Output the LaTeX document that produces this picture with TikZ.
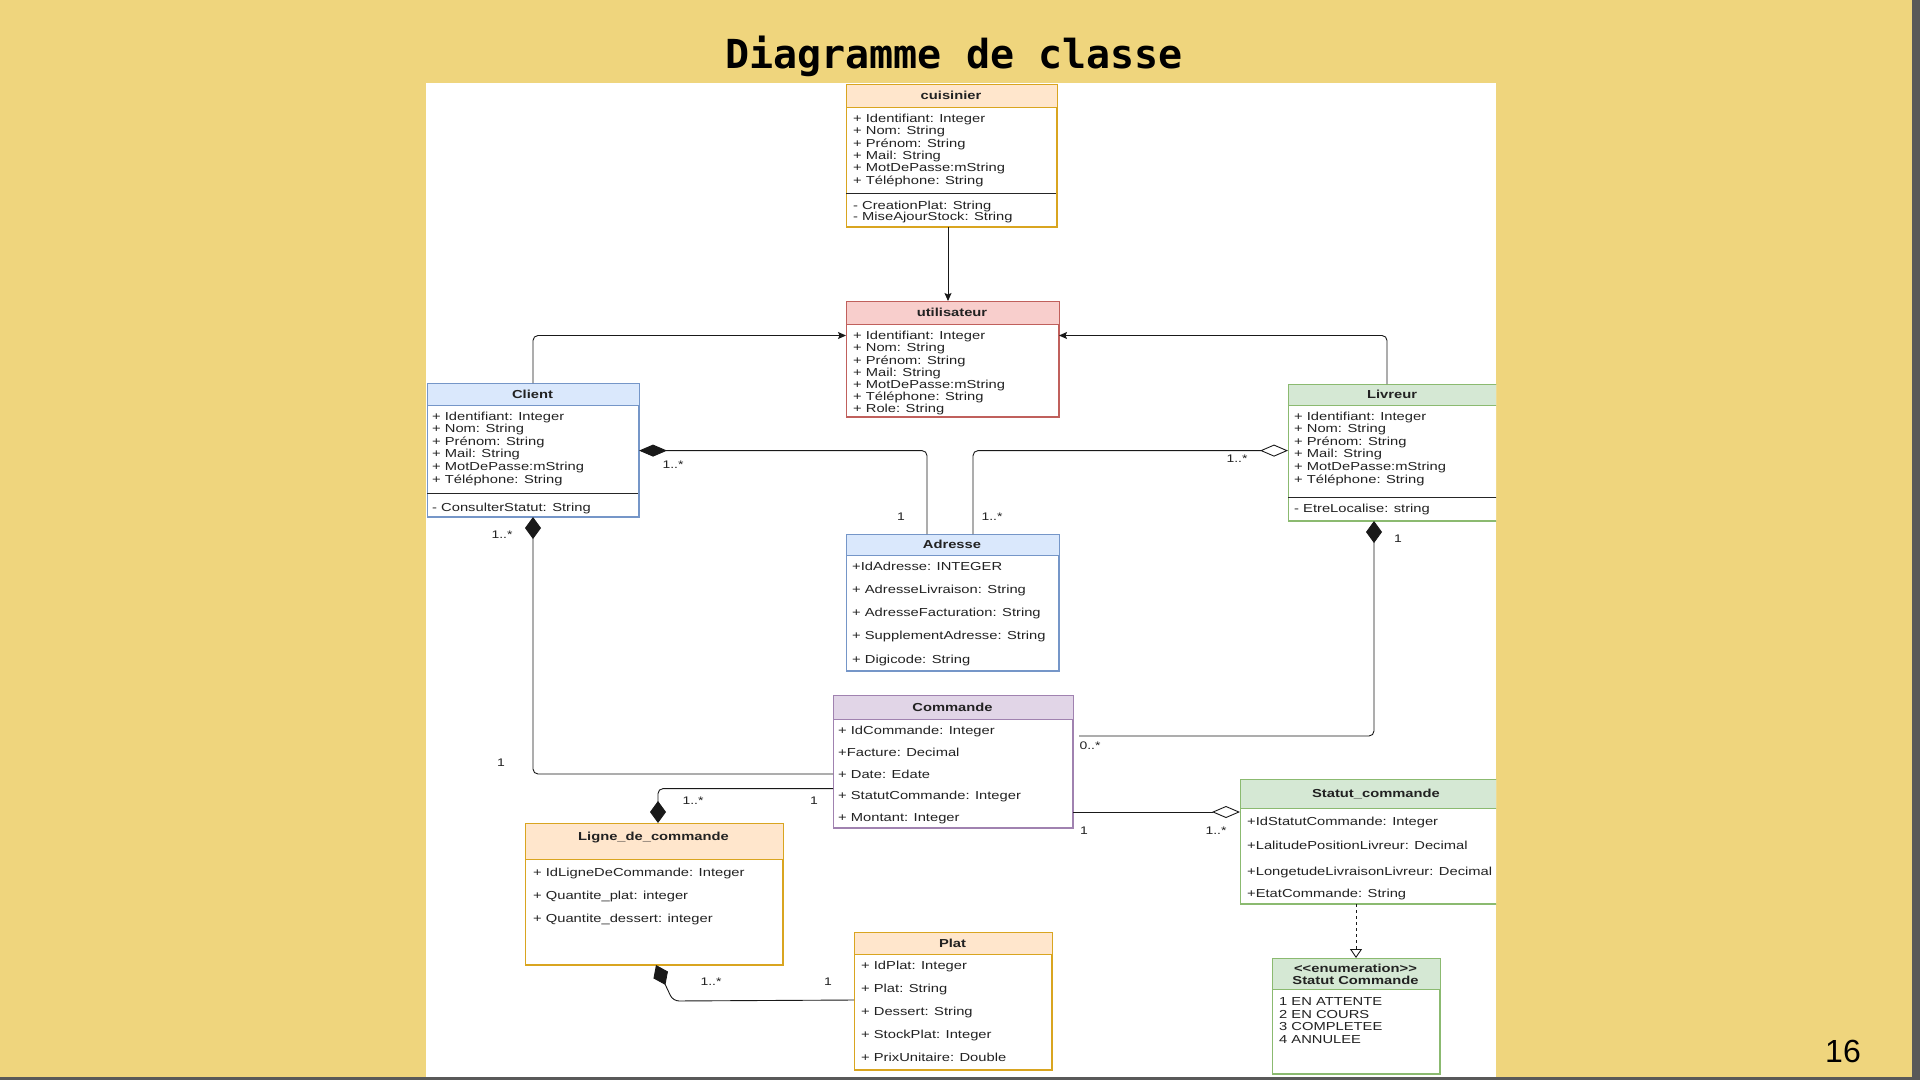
\documentclass[tikz,border=0pt]{standalone}
\usepackage{fontspec}
\usetikzlibrary{arrows.meta}
\newfontfamily\umlf[FakeStretch=1.27]{Liberation Sans}
\newfontfamily\titlef{DejaVu Sans Mono}
\newfontfamily\pagef{Liberation Sans}
\definecolor{slide}{HTML}{EFD57D}
\definecolor{txt}{HTML}{222222}
\definecolor{orgF}{HTML}{FFE6CC}\definecolor{orgD}{HTML}{D9A520}
\definecolor{redF}{HTML}{F8CECC}\definecolor{redD}{HTML}{C0605C}
\definecolor{bluF}{HTML}{DAE8FC}\definecolor{bluD}{HTML}{7596C8}
\definecolor{grnF}{HTML}{D5E8D4}\definecolor{grnD}{HTML}{8BBA70}
\definecolor{purF}{HTML}{E1D5E7}\definecolor{purD}{HTML}{A082B0}
\tikzset{
  attr/.style={font=\umlf\fontsize{11.6}{12}\selectfont, text=txt, inner sep=0pt, anchor=base west},
  ctitle/.style={font=\umlf\bfseries\fontsize{11.6}{12}\selectfont, text=txt, inner sep=0pt, anchor=base},
  mult/.style={font=\umlf\fontsize{11}{12}\selectfont, text=txt, inner sep=0pt},
  conn/.style={line width=0.9pt, draw=black!90},
  assoc/.style={conn, -{Stealth[length=8pt,width=7pt,inset=1.5pt]}},
  hcomp/.style={conn, {Diamond[length=28pt,width=12pt]}-},
  hagg/.style={conn, {Diamond[open,fill=white,length=28pt,width=12pt]}-},
  vcomp/.style={conn, {Diamond[length=22pt,width=16pt]}-},
}
% name, x, y, w, h, header height, fill, draw
\newcommand\umlbox[8]{%
  \node[draw=#8, fill=white, line width=1pt, minimum width=#4pt, minimum height=#5pt,
        anchor=north west, inner sep=0pt] (#1) at (#2,#3) {};
  \fill[#7] (#1.north west) rectangle ([yshift=-#6pt]#1.north east);
  \draw[#8, line width=1pt] (#1.north west) rectangle (#1.south east);
  \draw[#8, line width=1pt] ([yshift=-#6pt]#1.north west) -- ([yshift=-#6pt]#1.north east);
}
\begin{document}
\begin{tikzpicture}[x=1pt,y=-1pt]
\useasboundingbox (0,0) rectangle (1920,1080);
\fill[slide] (0,0) rectangle (1920,1080);
\fill[black!65] (1912,0) rectangle (1920,1080);
\fill[black!65] (0,1077) rectangle (1920,1080);
\node[font=\titlef\bfseries\fontsize{40}{44}\selectfont, anchor=base, inner sep=0pt] (title) at (954,68) {Diagramme de classe};
\node[font=\pagef\fontsize{32}{36}\selectfont, anchor=base, inner sep=0pt] (page) at (1843,1062) {16};
\fill[white] (426,83) rectangle (1496,1077);
\begin{scope}
\clip (426,83) rectangle (1496,1077);

% cuisinier
\umlbox{cuis}{846}{84}{210}{142}{23}{orgF}{orgD}
\node[ctitle] (cuis-t) at (951,99.5) {cuisinier};
\foreach \yy/\rowtext [count=\i] in {122.3/{+ Identifiant: Integer},134.65/{+ Nom: String},147/{+ Prénom: String},159.35/{+ Mail: String},171.7/{+ MotDePasse:mString},184.05/{+ Téléphone: String},209.3/{- CreationPlat: String},220.7/{- MiseAjourStock: String}}
  \node[attr] (cuis-\i) at (853,\yy) {\rowtext};
\draw[black!85, line width=1pt] (846,193) -- (1056,193);

% utilisateur
\umlbox{util}{846}{301}{212}{115}{23}{redF}{redD}
\node[ctitle] (util-t) at (952,316.5) {utilisateur};
\foreach \yy/\rowtext [count=\i] in {339.7/{+ Identifiant: Integer},351.9/{+ Nom: String},364.1/{+ Prénom: String},376.3/{+ Mail: String},388.5/{+ MotDePasse:mString},400.7/{+ Téléphone: String},412.9/{+ Role: String}}
  \node[attr] (util-\i) at (853,\yy) {\rowtext};

% Client
\umlbox{client}{427}{383}{211}{133}{22}{bluF}{bluD}
\node[ctitle] (client-t) at (532.5,398) {Client};
\foreach \yy/\rowtext [count=\i] in {420/{+ Identifiant: Integer},432.6/{+ Nom: String},445.2/{+ Prénom: String},457.8/{+ Mail: String},470.4/{+ MotDePasse:mString},483/{+ Téléphone: String},511.3/{- ConsulterStatut: String}}
  \node[attr] (client-\i) at (432,\yy) {\rowtext};
\draw[black!85, line width=1pt] (427,493) -- (638,493);

% Livreur
\umlbox{livreur}{1288}{384}{212}{136}{21}{grnF}{grnD}
\node[ctitle] (livreur-t) at (1392,398) {Livreur};
\foreach \yy/\rowtext [count=\i] in {420/{+ Identifiant: Integer},432.6/{+ Nom: String},445.2/{+ Prénom: String},457.8/{+ Mail: String},470.4/{+ MotDePasse:mString},483/{+ Téléphone: String},512/{- EtreLocalise: string}}
  \node[attr] (livreur-\i) at (1294,\yy) {\rowtext};
\draw[black!85, line width=1pt] (1288,497) -- (1500,497);

% Adresse
\umlbox{adr}{846}{534}{212}{136}{21}{bluF}{bluD}
\node[ctitle] (adr-t) at (952,548.5) {Adresse};
\foreach \yy/\rowtext [count=\i] in {570/{+IdAdresse: INTEGER},593.25/{+ AdresseLivraison: String},616.5/{+ AdresseFacturation: String},639.75/{+ SupplementAdresse: String},663/{+ Digicode: String}}
  \node[attr] (adr-\i) at (852,\yy) {\rowtext};

% Commande
\umlbox{cmd}{833}{695}{239}{132}{24}{purF}{purD}
\node[ctitle] (cmd-t) at (952.5,711) {Commande};
\foreach \yy/\rowtext [count=\i] in {734.7/{+ IdCommande: Integer},756.35/{+Facture: Decimal},778/{+ Date: Edate},799.65/{+ StatutCommande: Integer},821.3/{+ Montant: Integer}}
  \node[attr] (cmd-\i) at (838,\yy) {\rowtext};

% Ligne_de_commande
\umlbox{ligne}{525}{823}{257}{141}{36}{orgF}{orgD}
\node[ctitle] (ligne-t) at (653.5,840) {Ligne\_de\_commande};
\foreach \yy/\rowtext [count=\i] in {876.3/{+ IdLigneDeCommande: Integer},899.5/{+ Quantite\_plat: integer},922.7/{+ Quantite\_dessert: integer}}
  \node[attr] (ligne-\i) at (533,\yy) {\rowtext};

% Statut_commande
\umlbox{stat}{1240}{779}{260}{124}{29}{grnF}{grnD}
\node[ctitle] (stat-t) at (1376,797.5) {Statut\_commande};
\foreach \yy/\rowtext [count=\i] in {825.7/{+IdStatutCommande: Integer},849/{+LalitudePositionLivreur: Decimal},875.7/{+LongetudeLivraisonLivreur: Decimal},897.3/{+EtatCommande: String}}
  \node[attr] (stat-\i) at (1247,\yy) {\rowtext};

% Plat
\umlbox{plat}{854}{932}{197}{137}{22}{orgF}{orgD}
\node[ctitle] (plat-t) at (952.5,947) {Plat};
\foreach \yy/\rowtext [count=\i] in {969.7/{+ IdPlat: Integer},992.7/{+ Plat: String},1015.7/{+ Dessert: String},1038.7/{+ StockPlat: Integer},1061.7/{+ PrixUnitaire: Double}}
  \node[attr] (plat-\i) at (861,\yy) {\rowtext};

% enumeration
\umlbox{enum}{1272}{958}{167}{115}{31}{grnF}{grnD}
\node[ctitle] (enum-s) at (1355.5,972.6) {<<enumeration>>};
\node[ctitle] (enum-t) at (1355.5,984.8) {Statut Commande};
\foreach \yy/\rowtext [count=\i] in {1005.7/{1 EN ATTENTE},1018.2/{2 EN COURS},1030.7/{3 COMPLETEE},1043.2/{4 ANNULEE}}
  \node[attr] (enum-\i) at (1279,\yy) {\rowtext};

% connectors
\draw[assoc] ([xshift=102pt]cuis.south west) -- ([xshift=102pt]cuis.south west |- util.north);
\draw[assoc, rounded corners=5pt] (client.north) |- ([yshift=-34.5pt]util.north west);
\draw[assoc, rounded corners=5pt] ([xshift=99pt]livreur.north west) |- ([yshift=-34.5pt]util.north east);
\draw[hcomp, rounded corners=5pt] ([yshift=-67.6pt]client.north east) -| ([xshift=81pt]adr.north west);
\draw[hagg, rounded corners=5pt] ([yshift=-66.6pt]livreur.north west) -| ([xshift=127pt]adr.north west);
\draw[vcomp, rounded corners=5pt] ([xshift=106pt]client.south west) |- ([yshift=-79pt]cmd.north west);
\draw[vcomp, rounded corners=5pt] ([xshift=86pt]livreur.south west) |- ([yshift=-41pt,xshift=6pt]cmd.north east);
\draw[vcomp, rounded corners=5pt] ([xshift=133pt]ligne.north west) |- ([yshift=-93.6pt]cmd.north west);
\draw[hagg] ([yshift=-33pt]stat.north west) -- ([yshift=-117pt]cmd.north east);
\draw[conn, dashed, -{Triangle[open,fill=white,length=9pt,width=12pt]}] (enum.north |- stat.south) -- (enum.north);
\draw[vcomp, rounded corners=6pt] ([xshift=131pt]ligne.south west) -- ([xshift=148pt,yshift=-36pt]ligne.south west) -- ([yshift=-68pt]plat.north west);

% multiplicities
\node[mult] (m1) at (673,465) {1..*};
\node[mult] (m2) at (901,517) {1};
\node[mult] (m3) at (992,517) {1..*};
\node[mult] (m4) at (1237,459) {1..*};
\node[mult] (m5) at (502,535) {1..*};
\node[mult] (m6) at (501,763) {1};
\node[mult] (m7) at (1090,746) {0..*};
\node[mult] (m8) at (1398,539) {1};
\node[mult] (m9) at (693,801) {1..*};
\node[mult] (m10) at (814,801) {1};
\node[mult] (m11) at (1084,831) {1};
\node[mult] (m12) at (1216,831) {1..*};
\node[mult] (m13) at (711,982) {1..*};
\node[mult] (m14) at (828,982) {1};
\end{scope}
\end{tikzpicture}
\end{document}
